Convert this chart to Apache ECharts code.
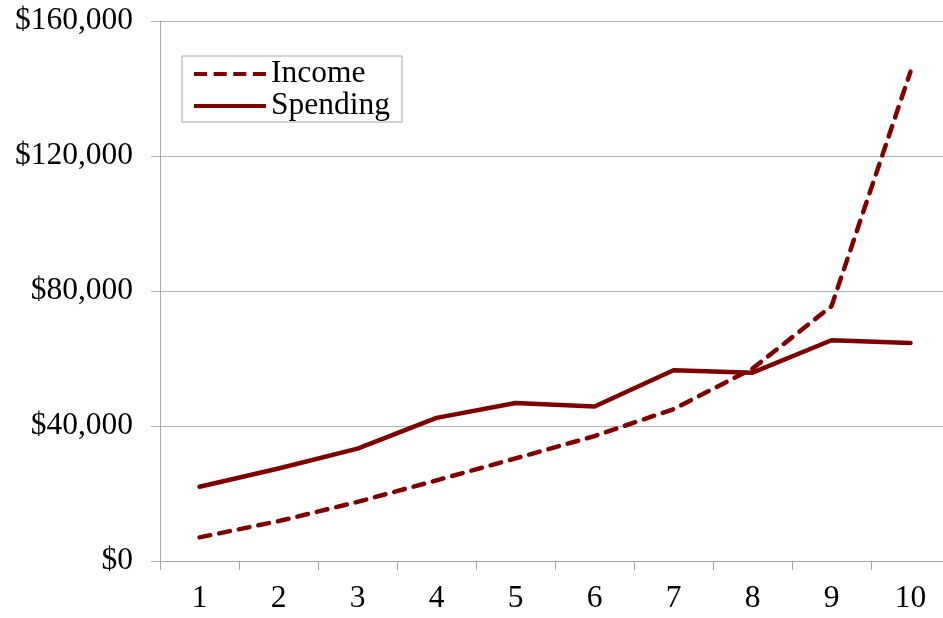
<!DOCTYPE html>
<html>
<head>
<meta charset="utf-8">
<script src="https://cdn.jsdelivr.net/npm/echarts@6/dist/echarts.min.js"></script>
<style>
html,body{margin:0;padding:0;background:#fff;}
#chart{width:943px;height:618px;}
</style>
</head>
<body>
<div id="chart"></div>
<script>
var categories = ['1','2','3','4','5','6','7','8','9','10'];
var income = [7000, 11800, 17500, 23900, 30400, 37000, 45000, 57000, 75500, 145000];
var spending = [22000, 27400, 33300, 42400, 46800, 45800, 56500, 55800, 65400, 64600];
var seriesNames = ['Income', 'Spending'];

var FONT = '"Liberation Serif", "Times New Roman", serif';
var RED = '#800000';
var chart = echarts.init(document.getElementById('chart'));
chart.setOption({
  animation: false,
  backgroundColor: '#fff',
  grid: { left: 160, width: 790, top: 21, bottom: 57, containLabel: false, outerBoundsMode: 'none' },
  legend: {
    orient: 'vertical',
    left: 182, top: 56,
    padding: [2, 12, 0, 12],
    itemGap: 0,
    itemWidth: 72,
    itemHeight: 4.5,
    borderColor: '#a6a6a6',
    borderWidth: 1,
    textStyle: { fontFamily: FONT, fontSize: 31.5, color: '#000', lineHeight: 32, padding: [0,0,0,0] },
    data: [
      { name: seriesNames[0], icon: 'path://M0,0h13v4h-13z M19.5,0h13v4h-13z M39,0h13v4h-13z M58.5,0h13v4h-13z' },
      { name: seriesNames[1], icon: 'path://M0,0h72v4h-72z' }
    ]
  },
  xAxis: {
    type: 'category',
    data: categories,
    boundaryGap: true,
    axisLine: { lineStyle: { color: '#a6a6a6', width: 1 } },
    axisTick: { show: true, length: 9, lineStyle: { color: '#a6a6a6' } },
    axisLabel: { fontFamily: FONT, fontSize: 31.5, color: '#000', margin: 22 },
    splitLine: { show: false }
  },
  yAxis: {
    type: 'value',
    min: 0, max: 160000, interval: 40000,
    axisLine: { show: true, lineStyle: { color: '#a6a6a6', width: 1 } },
    axisTick: { show: true, length: 9, lineStyle: { color: '#b3b3b3' } },
    axisLabel: {
      fontFamily: FONT, fontSize: 31.5, color: '#000', margin: 27,
      formatter: function (v) { return '$' + v.toLocaleString('en-US'); }
    },
    splitLine: { show: true, lineStyle: { color: '#b3b3b3', width: 1 } }
  },
  series: [
    {
      name: seriesNames[0], type: 'line', data: income,
      symbol: 'none', smooth: false,
      itemStyle: { color: RED },
      lineStyle: { color: RED, width: 4.5, type: [11, 9], cap: 'round', join: 'round' }
    },
    {
      name: seriesNames[1], type: 'line', data: spending,
      symbol: 'none', smooth: false,
      itemStyle: { color: RED },
      lineStyle: { color: RED, width: 4.5, type: 'solid', cap: 'round', join: 'round' }
    }
  ]
});
</script>
</body>
</html>
